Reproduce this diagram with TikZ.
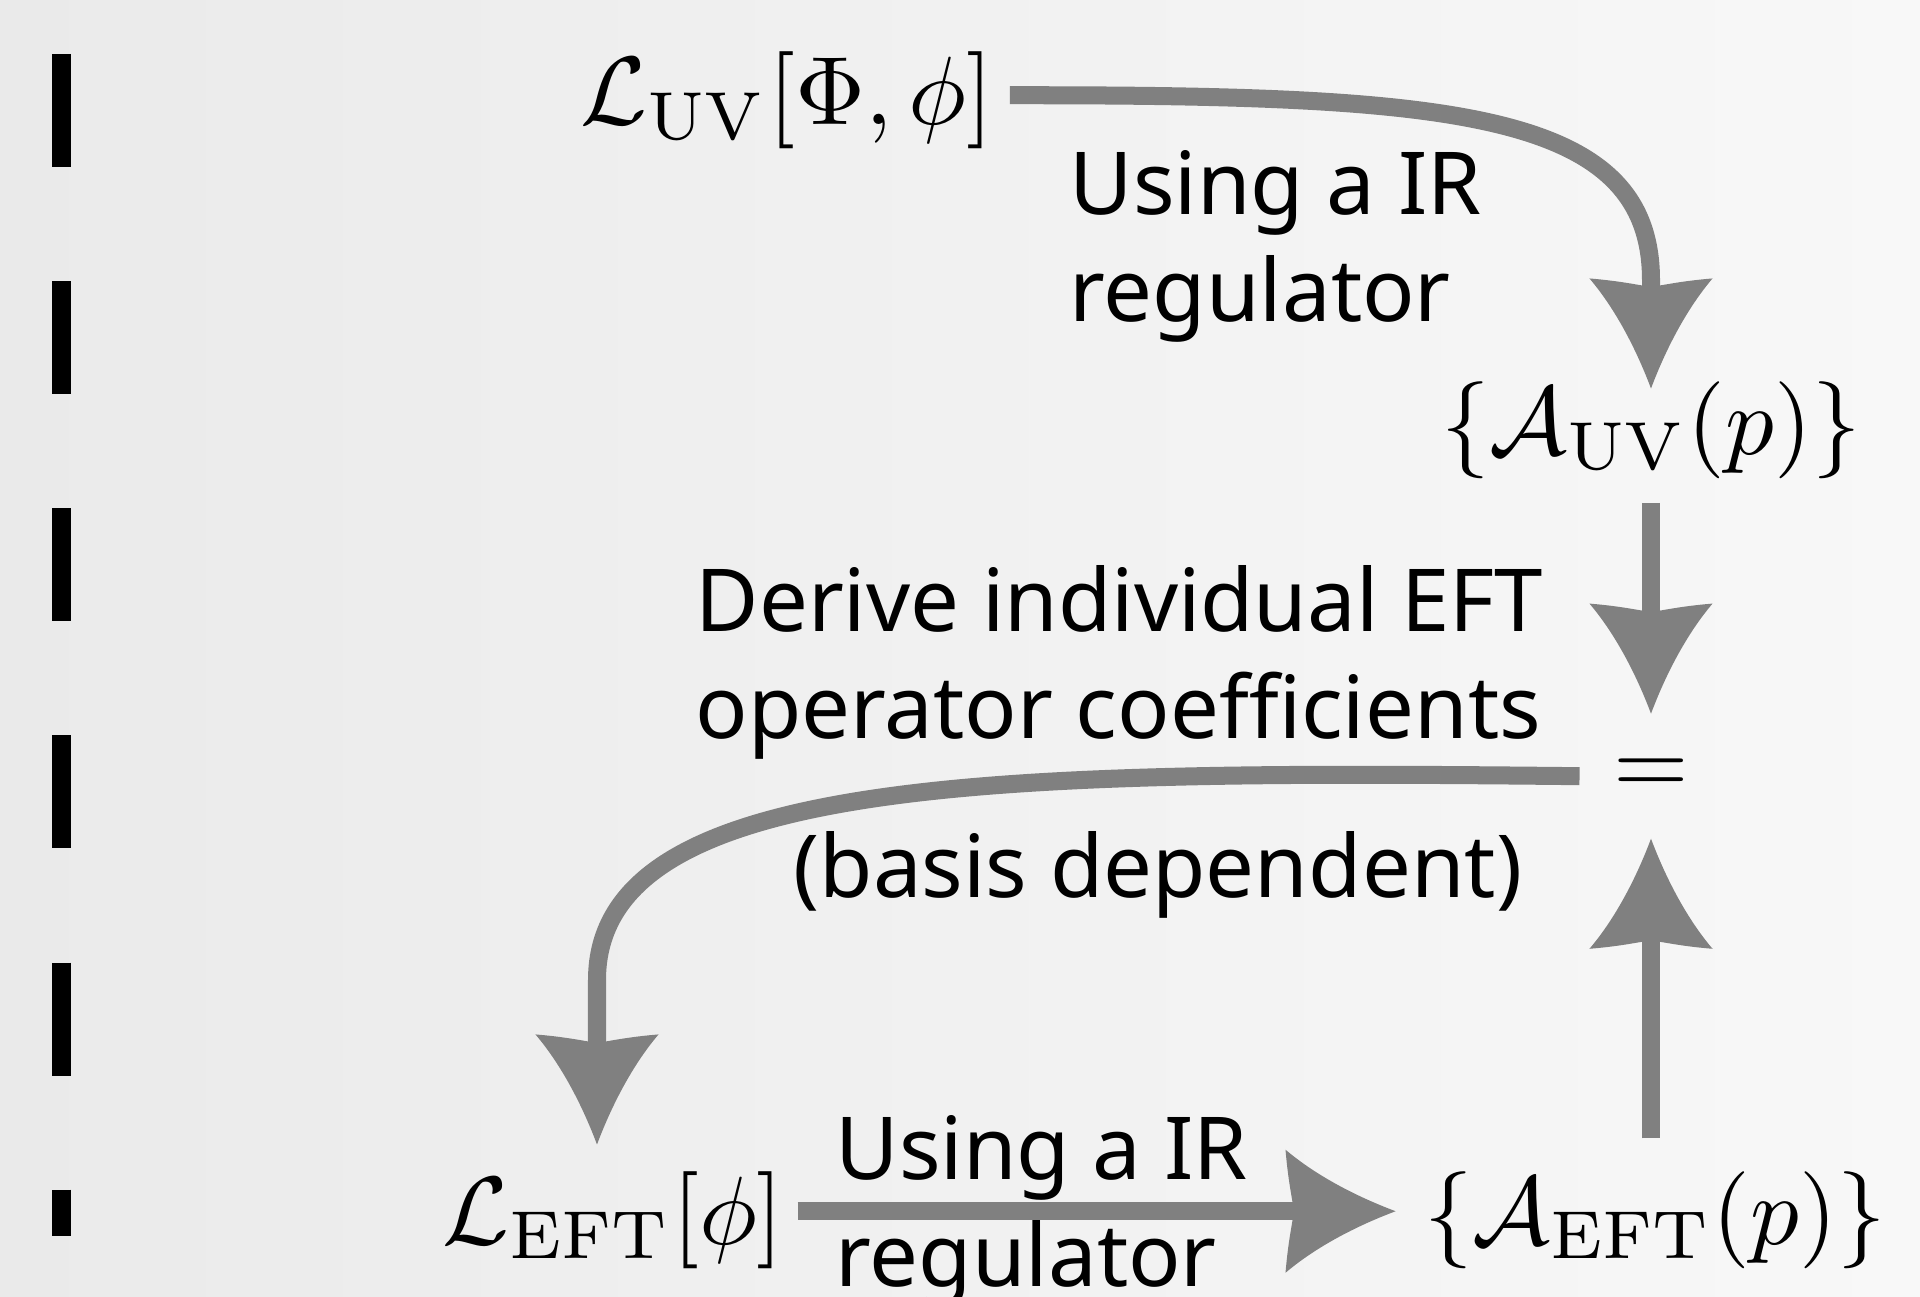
\documentclass[tikz,border=0pt]{standalone}
\usepackage[no-math]{fontspec}
\usepackage{graphicx}
\newfontfamily\labelfont{Noto Sans}
\usetikzlibrary{arrows.meta}
\newcommand{\mymath}[1]{\scalebox{2.76}{$#1$}}
\definecolor{arrgray}{HTML}{808080}
\definecolor{bgL}{HTML}{EAEAEA}
\definecolor{bgR}{HTML}{F8F8F8}
\pgfdeclarearrow{
  name = Fin,
  setup code = {
    \pgfarrowssettipend{0pt}
    \pgfarrowssetbackend{-1.10cm}
    \pgfarrowssetvisualbackend{-1.02cm}
    \pgfarrowssetlineend{-0.80cm}
    \pgfarrowshullpoint{0pt}{0pt}
    \pgfarrowsupperhullpoint{-1.10cm}{0.615cm}
  },
  drawing code = {
    \pgfpathmoveto{\pgfpoint{0cm}{0cm}}
    \pgfpathcurveto{\pgfpoint{-0.40cm}{0.15cm}}{\pgfpoint{-0.80cm}{0.36cm}}{\pgfpoint{-1.10cm}{0.615cm}}
    \pgfpathcurveto{\pgfpoint{-1.07cm}{0.25cm}}{\pgfpoint{-1.02cm}{0.08cm}}{\pgfpoint{-1.02cm}{0cm}}
    \pgfpathcurveto{\pgfpoint{-1.02cm}{-0.08cm}}{\pgfpoint{-1.07cm}{-0.25cm}}{\pgfpoint{-1.10cm}{-0.615cm}}
    \pgfpathcurveto{\pgfpoint{-0.80cm}{-0.36cm}}{\pgfpoint{-0.40cm}{-0.15cm}}{\pgfpoint{0cm}{0cm}}
    \pgfpathclose
    \pgfusepathqfill
  }
}
\tikzset{
  mathnode/.style={inner sep=0pt, font=\normalsize},
  lbl/.style={inner sep=0pt, align=left, font=\labelfont\fontsize{24.7}{30.2}\selectfont},
  conn/.style={color=arrgray, line width=0.18cm, -Fin},
  divider/.style={black, line width=0.19cm, dash pattern=on 1.13cm off 1.14cm}
}
\begin{document}
\begin{tikzpicture}[x=0.01cm, y=-0.01cm]
\useasboundingbox (0,0) rectangle (1920,1297);
\shade[left color=bgL, right color=bgR] (0,0) rectangle (1920,1297);

% divider
\coordinate (divTop) at (61.5,54);
\coordinate (divBot) at (61.5,1236);
\draw[divider] (divTop) -- (divBot);

% math nodes
\node[mathnode, anchor=base west] (Luv) at (580,125) {\mymath{\mathcal{L}_{\mathrm{UV}}[\Phi,\phi]}};
\node[mathnode, anchor=base] (Auv) at (1651,455) {\mymath{\{\mathcal{A}_{\mathrm{UV}}(p)\}}};
\node[mathnode, anchor=base, text height=0.356cm, text depth=-0.129cm, inner ysep=0.44cm, inner xsep=0.33cm] (eq) at (1651,794) {\mymath{=}};
\node[mathnode, anchor=base west] (Leff) at (442,1244) {\mymath{\mathcal{L}_{\mathrm{EFT}}[\phi]}};
\node[mathnode, anchor=base] (Aeft) at (1655,1244) {\mymath{\{\mathcal{A}_{\mathrm{EFT}}(p)\}}};

% labels (base = baseline of the last line)
\node[lbl, anchor=base west] (lblTop) at (1069,321) {Using a IR\\regulator};
\node[lbl, anchor=base west] (lblMid) at (695,738) {Derive individual EFT\\operator coefficients};
\node[lbl, anchor=base west] (lblBasis) at (793,897) {(basis dependent)};
\node[lbl, anchor=base west] (lblBot) at (835,1286) {Using a IR\\regulator};

% bend points
\coordinate (bend1) at (1651,280);
\coordinate (bend2) at (597,980);

% connectors
\draw[conn] ([shift={(0.16cm,0.055cm)}]Luv.east) .. controls (1450,95) and (1651,110) .. (bend1) -- ([yshift=-0.07cm]Auv.north -| bend1);
\draw[conn] ([yshift=-0.23cm]Auv.south) -- (eq.north);
\draw[conn] ([yshift=0.32cm]Aeft.north -| eq.south) -- (eq.south);
\draw[conn] (eq.west) .. controls (1000,770) and (597,775) .. (bend2) -- ([yshift=0.26cm]Leff.north -| bend2);
\draw[conn] ([shift={(0.13cm,0.085cm)}]Leff.east) -- ([shift={(-0.28cm,0.085cm)}]Aeft.west);
\end{tikzpicture}
\end{document}
